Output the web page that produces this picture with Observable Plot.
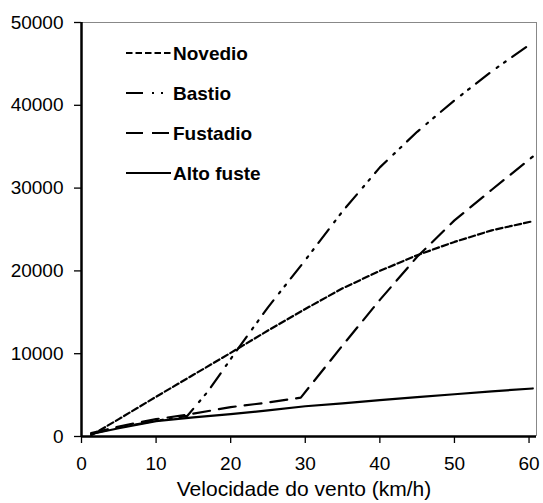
<!DOCTYPE html>
<html>
<head>
<meta charset="utf-8">
<script src="https://cdn.jsdelivr.net/npm/d3@7"></script>
<script src="https://cdn.jsdelivr.net/npm/@observablehq/plot@0.6"></script>
<style>
  html, body { margin: 0; padding: 0; background: #fff; }
  #chart svg { display: block; }
</style>
</head>
<body>
<div id="chart"></div>
<script>
// Series names and stroke dash patterns (legend order)
const seriesNames = ["Novedio", "Bastio", "Fustadio", "Alto fuste"];
const dashes = ["6.5,3", "17,9,2,7,2,8", "17,9", null];

// Values: wind speed (km/h) and value
const novedioX = [1.3, 5, 10, 15, 20, 25, 30, 35, 40, 45, 50, 55, 60.5];
const novedioY = [150, 2100, 4800, 7450, 10100, 12800, 15400, 17900, 20000, 21900, 23500, 24900, 26000];

const bastioX = [1.3, 5, 10, 14.2, 17, 20.5, 25, 30, 35, 40, 45, 50, 55, 60.5];
const bastioY = [300, 1100, 1900, 2500, 5500, 10000, 15600, 21300, 27200, 32500, 36800, 40600, 44100, 47600];

const fustadioX = [1.3, 5, 10, 14, 20, 25, 29.4, 35, 40, 45, 50, 55, 60.5];
const fustadioY = [400, 1200, 2100, 2600, 3550, 4100, 4700, 11000, 16500, 21700, 26100, 29800, 33800];

const altoX = [1.3, 5, 10, 15, 20, 25, 30, 35, 40, 45, 50, 55, 60.5];
const altoY = [300, 1000, 1850, 2300, 2700, 3150, 3650, 4000, 4400, 4750, 5100, 5450, 5800];

const xTicks = [0, 10, 20, 30, 40, 50, 60];
const yTicks = [0, 10000, 20000, 30000, 40000, 50000];
const xLabel = "Velocidade do vento (km/h)";

const seriesX = [novedioX, bastioX, fustadioX, altoX];
const seriesY = [novedioY, bastioY, fustadioY, altoY];
const rows = (i) => seriesX[i].map((x, k) => ({x, y: seriesY[i][k]}));

const font = "'Liberation Sans', Arial, sans-serif";

const lineMarks = seriesNames.map((name, i) =>
  Plot.line(rows(i), {
    x: "x", y: "y",
    stroke: "#000",
    strokeWidth: 2.2,
    strokeDasharray: dashes[i] || undefined,
    strokeLinejoin: "round",
    curve: "linear"
  })
);

const plot = Plot.plot({
  width: 543,
  height: 503,
  marginLeft: 81,
  marginRight: 7,
  marginTop: 22,
  marginBottom: 67,
  style: {fontFamily: font, fontSize: "19px", color: "#000", background: "#fff"},
  x: {domain: [0, 61], ticks: xTicks, tickFormat: d => String(d)},
  y: {domain: [0, 50000], ticks: yTicks, tickFormat: d => String(d)},
  marks: [
    Plot.ruleY([50000], {stroke: "#888", strokeWidth: 1}),
    Plot.ruleX([61], {stroke: "#888", strokeWidth: 1}),
    ...lineMarks,
    Plot.axisX({ticks: xTicks, tickSize: 7, tickPadding: 13, tickFormat: d => String(d),
      label: null, fontSize: 19, stroke: "#000", strokeWidth: 1.3}),
    Plot.text([xLabel], {frameAnchor: "bottom", dy: 53, dx: -5, fontSize: 21,
      lineAnchor: "middle", fill: "#000"}),
    Plot.axisY({ticks: yTicks, tickSize: 7, tickPadding: 11, tickFormat: d => String(d),
      label: null, fontSize: 19, stroke: "#000", strokeWidth: 1.3}),
    Plot.ruleX([0], {stroke: "#000", strokeWidth: 2.5}),
    Plot.ruleY([0], {stroke: "#000", strokeWidth: 2.5})
  ]
});

document.getElementById("chart").appendChild(plot);

// Legend inside the plot area (top-left)
const svg = d3.select(plot.tagName === "svg" ? plot : plot.querySelector("svg"));
const lg = svg.append("g")
  .attr("font-family", font).attr("font-size", 19).attr("font-weight", "bold")
  .attr("text-anchor", "start").attr("fill", "#000");
seriesNames.forEach((name, i) => {
  const yy = 53 + i * 40;
  lg.append("line")
    .attr("x1", 126).attr("x2", 171).attr("y1", yy).attr("y2", yy)
    .attr("stroke", "#000").attr("stroke-width", 2.2)
    .attr("stroke-dasharray", dashes[i] || null);
  lg.append("text").attr("x", 173).attr("y", yy).attr("dy", "0.35em").text(name);
});
</script>
</body>
</html>
